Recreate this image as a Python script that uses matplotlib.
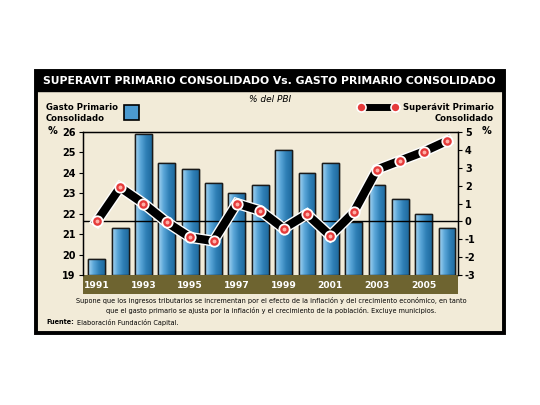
import numpy as np
import matplotlib
matplotlib.use("Agg")
import matplotlib.pyplot as plt
from matplotlib.patches import Rectangle
import matplotlib.patheffects as pe
import matplotlib.transforms as mtransforms

plt.rcParams["axes.unicode_minus"] = False

# data
years = list(range(1991, 2007))
gasto = [19.8, 21.3, 25.9, 24.5, 24.2, 23.5, 23.0, 23.4,
         25.1, 24.0, 24.5, 21.6, 23.4, 22.7, 22.0, 21.3]
superavit = [0.0, 1.9, 1.0, -0.05, -0.9, -1.1, 1.0, 0.6,
             -0.4, 0.4, -0.8, 0.5, 2.9, 3.4, 3.9, 4.5]
left_ticks = [19, 20, 21, 22, 23, 24, 25, 26]
right_ticks = [-3, -2, -1, 0, 1, 2, 3, 4, 5]
year_labels = [1991, 1993, 1995, 1997, 1999, 2001, 2003, 2005]

title = "SUPERAVIT PRIMARIO CONSOLIDADO Vs. GASTO PRIMARIO CONSOLIDADO"
note = ("Supone que los ingresos tributarios se incrementan por el efecto de la inflación y del crecimiento económico, en tanto\n"
        "que el gasto primario se ajusta por la inflación y el crecimiento de la población. Excluye municipios.")

beige = "#f2ebd8"
olive = "#6e6430"
W, H = 540, 405
base = 19

def fx(px):
    return px / W

def fy(py):
    return 1 - py / H

fig = plt.figure(figsize=(5.4, 4.05), dpi=100)
fig.patch.set_facecolor("white")

# frame, beige panel and title bar
fig.patches.append(Rectangle((fx(36), fy(333)), fx(504) - fx(36), fy(71) - fy(333),
                             transform=fig.transFigure, facecolor=beige,
                             edgecolor="black", lw=2.8, zorder=0))
fig.patches.append(Rectangle((fx(36), fy(91)), fx(504) - fx(36), fy(71) - fy(91),
                             transform=fig.transFigure, facecolor="black",
                             edgecolor="black", lw=1, zorder=1))
fig.text(fx(269), fy(81), title, color="white", fontsize=7.8, fontweight="bold",
         ha="center", va="center")

ax = fig.add_axes([fx(83), fy(275), fx(458) - fx(83), fy(132) - fy(275)])
ax.set_zorder(2)
ax.set_facecolor(beige)
heights = [g - base for g in gasto]
bars = ax.bar(years, heights, bottom=base, width=0.72, color="#4b9ad0",
              edgecolor="#1a1a1a", lw=1.0, zorder=2)

# horizontal gradient inside each bar
grad = np.linspace(0, 1, 64).reshape(1, -1)
cmap = matplotlib.colors.LinearSegmentedColormap.from_list(
    "barblue", ["#a8d6f2", "#5aa6d8", "#2f7fb6", "#1f6a9e"])
for b in bars:
    x0, y0, w, h = b.get_x(), b.get_y(), b.get_width(), b.get_height()
    im = ax.imshow(grad, extent=(x0, x0 + w, y0, y0 + h), cmap=cmap, aspect="auto",
                   zorder=2.5, interpolation="bilinear")
    im.set_clip_path(b)
    ax.add_patch(Rectangle((x0, y0), w, h, fill=False, edgecolor="#1a1a1a",
                           lw=1.0, zorder=3))

ax.set_xlim(1990.41, 2006.47)
ax.set_ylim(19, 26)
ax.set_yticks(left_ticks)
ax.set_xticks([])
ax.tick_params(axis="y", labelsize=7, length=3, width=0.8, pad=2.5)
for t in ax.get_yticklabels():
    t.set_fontweight("bold")
for s in ["left", "right", "top"]:
    ax.spines[s].set_linewidth(1.0)
ax.spines["bottom"].set_visible(False)

ax2 = ax.twinx()
ax2.set_zorder(3)
ax2.patch.set_visible(False)
ax2.set_ylim(-3, 5)
ax2.set_yticks(right_ticks)
ax2.tick_params(axis="y", labelsize=7, length=3, width=0.8, pad=2)
for t in ax2.get_yticklabels():
    t.set_fontweight("bold")
ax2.spines["bottom"].set_visible(False)
ax2.axhline(0, color="black", lw=1.0, zorder=1)

ax2.plot(years, superavit, color="black", lw=6, solid_joinstyle="miter",
         zorder=4, path_effects=[pe.Stroke(linewidth=8, foreground="white"), pe.Normal()])
ax2.plot(years, superavit, ls="none", marker="o", ms=7.5, mfc="#e53a3a",
         mec="white", mew=1.3, zorder=5)
ax2.plot(years, superavit, ls="none", marker="o", ms=2.8, mfc="#ffb0a8",
         mec="none", zorder=6)

# year band under the plot
trans = mtransforms.blended_transform_factory(ax.transData, fig.transFigure)
fig.patches.append(Rectangle((fx(83), fy(294)), fx(458) - fx(83), fy(275) - fy(294),
                             transform=fig.transFigure, facecolor=olive,
                             edgecolor="none", zorder=1))
for yr in year_labels:
    fig.text(yr, fy(285), str(yr), transform=trans, color="white", fontsize=6.6,
             fontweight="bold", ha="center", va="center")

# header texts
fig.text(fx(46), fy(113), "Gasto Primario\nConsolidado", fontsize=6.1, fontweight="bold",
         ha="left", va="center", linespacing=1.35)
fig.patches.append(Rectangle((fx(124), fy(120)), fx(139) - fx(124), fy(105) - fy(120),
                             transform=fig.transFigure, facecolor="#4b9ad0",
                             edgecolor="black", lw=1.2, zorder=2))
fig.text(fx(270), fy(99), "% del PBI", fontsize=6.5, fontstyle="italic",
         ha="center", va="center")
fig.text(fx(494), fy(113), "Superávit Primario\nConsolidado", fontsize=6.1,
         fontweight="bold", ha="right", va="center", multialignment="right",
         linespacing=1.35)
fig.lines.append(plt.Line2D([fx(361), fx(395)], [fy(107), fy(107)], transform=fig.transFigure,
                            color="black", lw=5, zorder=3))
for xp in (361, 395):
    fig.lines.append(plt.Line2D([fx(xp)], [fy(107)], transform=fig.transFigure,
                                marker="o", ms=6.5, mfc="#e53a3a", mec="white",
                                mew=1.2, zorder=4))
fig.text(fx(52), fy(131), "%", fontsize=7, fontweight="bold", ha="center", va="center")
fig.text(fx(486), fy(131), "%", fontsize=7, fontweight="bold", ha="center", va="center")

# footnotes
fig.text(fx(271), fy(305), note, fontsize=4.7, ha="center", va="center", linespacing=1.5)
fuente = fig.text(fx(46), fy(322), "Fuente:", fontsize=4.7, fontweight="bold",
                  ha="left", va="center")
ax.annotate("Elaboración Fundación Capital.", xy=(1, 0.5), xycoords=fuente,
            xytext=(2.5, 0), textcoords="offset points", fontsize=4.7,
            ha="left", va="center", annotation_clip=False)

fig.savefig("out.png", dpi=100)
